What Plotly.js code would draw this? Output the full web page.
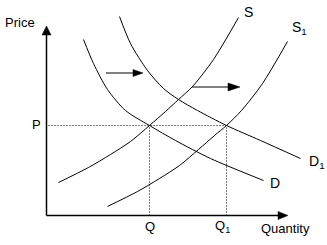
<!DOCTYPE html>
<html>
<head>
<meta charset="utf-8">
<script src="https://cdn.plot.ly/plotly-3.0.1.min.js"></script>
<style>html,body{margin:0;padding:0;background:#fff;}#chart{width:327px;height:245px;}</style>
</head>
<body>
<div id="chart"></div>
<script>
// Curves (quantity, price) in chart units, origin at the axes corner
var demandQ  = [37, 47, 61, 79, 103, 129, 164, 217];
var demandP  = [176, 152, 126, 105, 90, 75, 57, 35];
var demand1Q = [73, 84, 101, 117, 132, 151, 180, 214, 254];
var demand1P = [199, 172, 145, 127, 116, 105, 90, 75, 57];
var supplyQ  = [12, 42, 64, 84, 103, 119, 132, 146, 167, 192];
var supplyP  = [33, 48, 61, 74, 90, 104, 116, 129, 156, 198];
var supply1Q = [61, 91, 113, 133, 152, 168, 180, 195, 216, 241];
var supply1P = [9, 24, 37, 50, 66, 80, 90, 105, 132, 174];

// Equilibrium values
var P = 90, Q = 103, Q1 = 180;

var font = {family: 'Liberation Sans, Arial, sans-serif', size: 13, color: '#000'};
var bigFont = {family: 'Liberation Sans, Arial, sans-serif', size: 14, color: '#000'};

function curve(x, y) {
  return {x: x, y: y, mode: 'lines', type: 'scatter', hoverinfo: 'skip',
          line: {color: '#000', width: 1, shape: 'spline', smoothing: 0.8}};
}
function dotted(x, y) {
  return {x: x, y: y, mode: 'lines', type: 'scatter', hoverinfo: 'skip',
          line: {color: '#000', width: 1, dash: '1px,2px'}};
}

var data = [
  curve(demandQ, demandP),
  curve(demand1Q, demand1P),
  curve(supplyQ, supplyP),
  curve(supply1Q, supply1P),
  dotted([2, Q1], [P, P]),
  dotted([Q, Q], [0, P]),
  dotted([Q1, Q1], [0, P])
];

var shapes = [
  // axes
  {type: 'line', x0: 0, y0: 0, x1: 0, y1: 181, line: {color: '#000', width: 1.5}},
  {type: 'path', path: 'M -4.5,180.5 L 4.5,180.5 L 0,189.5 Z', fillcolor: '#000', line: {color: '#000', width: 0.5}},
  {type: 'line', x0: 0, y0: 0, x1: 232, y1: 0, line: {color: '#000', width: 1.5}},
  {type: 'path', path: 'M 231.5,-4 L 231.5,4 L 241.5,0 Z', fillcolor: '#000', line: {color: '#000', width: 0.5}},
  // shift arrows
  {type: 'line', x0: 59.5, y0: 142.5, x1: 87, y1: 142.5, line: {color: '#000', width: 1}},
  {type: 'path', path: 'M 86.5,139 L 86.5,146 L 96.5,142.5 Z', fillcolor: '#000', line: {color: '#000', width: 0.5}},
  {type: 'line', x0: 145.5, y0: 128.5, x1: 182, y1: 128.5, line: {color: '#000', width: 1}},
  {type: 'path', path: 'M 181.5,124.5 L 181.5,132.5 L 193.5,128.5 Z', fillcolor: '#000', line: {color: '#000', width: 0.5}}
];

function label(text, x, y, f, xa) {
  return {text: text, x: x, y: y, xref: 'x', yref: 'y', showarrow: false,
          font: f, xanchor: xa || 'center', yanchor: 'middle'};
}

var annotations = [
  label('Price', -27, 193.5, font),
  label('P', -10.5, 91.5, font),
  label('Q', Q, -11, font),
  label('Q<sub>1</sub>', 166, -11, font, 'left'),
  label('Quantity', 238.5, -13, font),
  label('S', 201.5, 203.5, bigFont),
  label('S<sub>1</sub>', 243, 187.5, bigFont, 'left'),
  label('D', 228.5, 32.5, bigFont),
  label('D<sub>1</sub>', 260, 53.5, bigFont, 'left')
];

var layout = {
  width: 327, height: 245,
  margin: {l: 0, r: 0, t: 0, b: 0, pad: 0},
  paper_bgcolor: '#fff', plot_bgcolor: '#fff',
  showlegend: false,
  xaxis: {visible: false, range: [-46.5, 280.5], fixedrange: true},
  yaxis: {visible: false, range: [-29.5, 215.5], fixedrange: true},
  shapes: shapes,
  annotations: annotations
};

Plotly.newPlot('chart', data, layout, {staticPlot: true, displayModeBar: false});
</script>
</body>
</html>
